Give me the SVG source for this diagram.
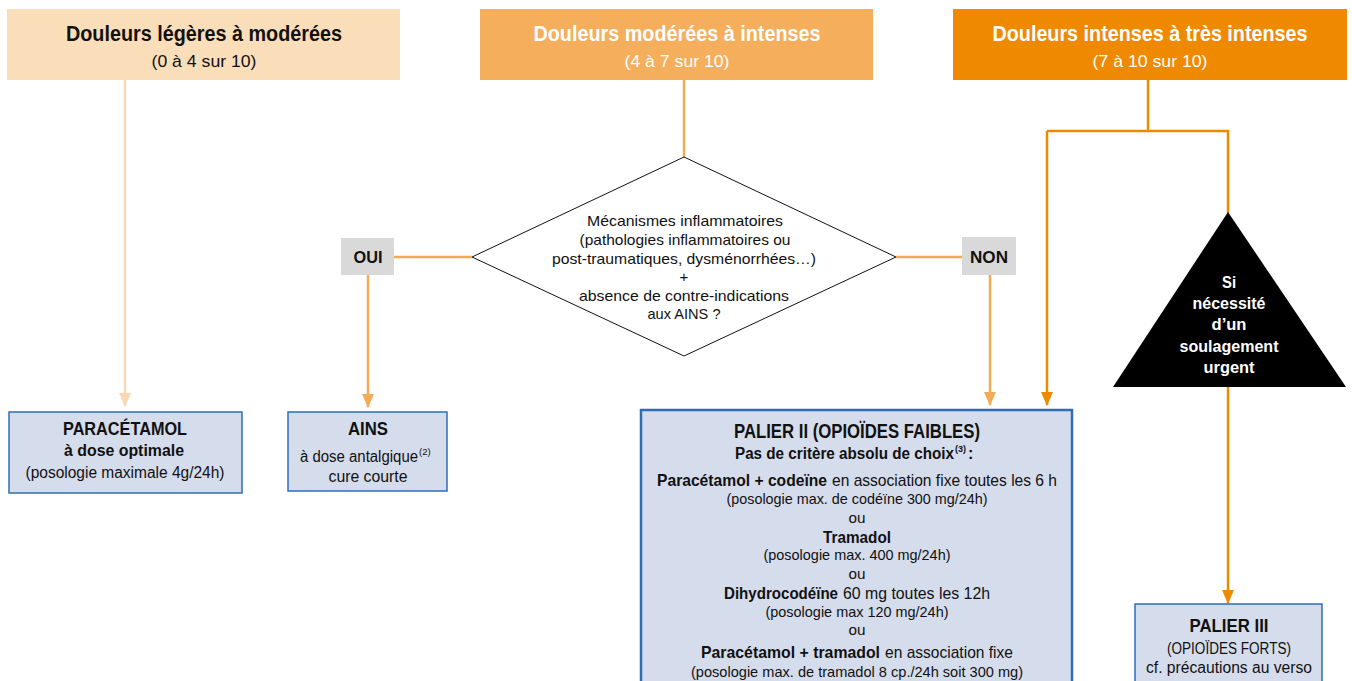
<svg xmlns="http://www.w3.org/2000/svg" width="1352" height="681" viewBox="0 0 1352 681">
<style>
text{font-family:"Liberation Sans",Arial,sans-serif;text-anchor:middle;fill:#111}
.s{text-anchor:start}
.b{font-weight:bold}
.w{fill:#fff}
.box{fill:#D5DCEC;stroke:#2F6EB5;stroke-width:1.5}
.c1{stroke:#F9D8B2;stroke-width:2.5;fill:none}
.c2{stroke:#F4AB58;stroke-width:2.5;fill:none}
.c3{stroke:#EE8A00;stroke-width:2.5;fill:none}
.lbl{fill:#D9D9D9}
</style>
<defs>
<marker id="m1" markerUnits="userSpaceOnUse" markerWidth="14" markerHeight="12" refX="13" refY="6" orient="auto" viewBox="0 0 14 12"><path d="M0,0 L14,6 L0,12 Z" fill="#F9D8B2"/></marker>
<marker id="m2" markerUnits="userSpaceOnUse" markerWidth="14" markerHeight="12" refX="13" refY="6" orient="auto" viewBox="0 0 14 12"><path d="M0,0 L14,6 L0,12 Z" fill="#F4AB58"/></marker>
<marker id="m3" markerUnits="userSpaceOnUse" markerWidth="14" markerHeight="12" refX="13" refY="6" orient="auto" viewBox="0 0 14 12"><path d="M0,0 L14,6 L0,12 Z" fill="#EE8A00"/></marker>
</defs>

<g id="connectors">
<line class="c1" x1="125" y1="80" x2="125" y2="406" marker-end="url(#m1)"/>
<line class="c2" x1="684" y1="80" x2="684" y2="157"/>
<line class="c2" x1="394" y1="257" x2="472" y2="257"/>
<line class="c2" x1="896" y1="257" x2="962" y2="257"/>
<line class="c2" x1="368" y1="275" x2="368" y2="407" marker-end="url(#m2)"/>
<line class="c2" x1="990" y1="275" x2="990" y2="405" marker-end="url(#m2)"/>
<polyline class="c3" points="1148,80 1148,131"/>
<polyline class="c3" points="1047,131 1228,131 1228,213"/>
<line class="c3" x1="1047" y1="131" x2="1047" y2="405" marker-end="url(#m3)"/>
<line class="c3" x1="1228" y1="387" x2="1228" y2="603" marker-end="url(#m3)"/>
</g>

<g id="header1">
<rect x="7" y="9" width="393" height="71" fill="#FADDB9"/>
<text x="204" y="41" class="b" font-size="22" textLength="276" lengthAdjust="spacingAndGlyphs">Douleurs légères à modérées</text>
<text x="204" y="67" font-size="17" textLength="105" lengthAdjust="spacingAndGlyphs">(0 à 4 sur 10)</text>
</g>
<g id="header2">
<rect x="480" y="9" width="393" height="71" fill="#F4AE5C"/>
<text x="677" y="41" class="b w" font-size="22" textLength="287" lengthAdjust="spacingAndGlyphs">Douleurs modérées à intenses</text>
<text x="677" y="67" class="w" font-size="17" textLength="105" lengthAdjust="spacingAndGlyphs">(4 à 7 sur 10)</text>
</g>
<g id="header3">
<rect x="953" y="9" width="394" height="71" fill="#EF8A00"/>
<text x="1150" y="41" class="b w" font-size="22" textLength="315" lengthAdjust="spacingAndGlyphs">Douleurs intenses à très intenses</text>
<text x="1150" y="67" class="w" font-size="17" textLength="115" lengthAdjust="spacingAndGlyphs">(7 à 10 sur 10)</text>
</g>

<g id="decision">
<polygon points="684,157 896,257 684,356 472,257" fill="#fff" stroke="#111" stroke-width="1"/>
<text x="685" y="226" font-size="15" textLength="196" lengthAdjust="spacingAndGlyphs">Mécanismes inflammatoires</text>
<text x="685" y="245" font-size="15" textLength="211" lengthAdjust="spacingAndGlyphs">(pathologies inflammatoires ou</text>
<text x="684" y="264" font-size="15" textLength="264" lengthAdjust="spacingAndGlyphs">post-traumatiques, dysménorrhées…)</text>
<text x="684" y="282" font-size="15">+</text>
<text x="684" y="301" font-size="15" textLength="210" lengthAdjust="spacingAndGlyphs">absence de contre-indications</text>
<text x="684" y="319" font-size="15" textLength="73" lengthAdjust="spacingAndGlyphs">aux AINS ?</text>
</g>

<g id="oui">
<rect class="lbl" x="341" y="238" width="53" height="37"/>
<text x="368" y="263" class="b" font-size="17" textLength="29" lengthAdjust="spacingAndGlyphs">OUI</text>
</g>
<g id="non">
<rect class="lbl" x="962" y="237" width="54" height="38"/>
<text x="989" y="263" class="b" font-size="17" textLength="38" lengthAdjust="spacingAndGlyphs">NON</text>
</g>

<g id="paracetamol">
<rect class="box" x="9" y="412" width="233" height="81"/>
<text x="125" y="435" class="b" font-size="18" textLength="124" lengthAdjust="spacingAndGlyphs">PARACÉTAMOL</text>
<text x="124" y="456" class="b" font-size="16" textLength="120" lengthAdjust="spacingAndGlyphs">à dose optimale</text>
<text x="125" y="478" font-size="16" textLength="199" lengthAdjust="spacingAndGlyphs">(posologie maximale 4g/24h)</text>
</g>

<g id="ains">
<rect class="box" x="288" y="412" width="159" height="79"/>
<text x="368" y="435" class="b" font-size="18" textLength="40" lengthAdjust="spacingAndGlyphs">AINS</text>
<text x="300" y="462" class="s" font-size="16"><tspan textLength="118" lengthAdjust="spacingAndGlyphs">à dose antalgique</tspan><tspan font-size="9.5" dx="1" dy="-7">(2)</tspan></text>
<text x="368" y="482" font-size="16" textLength="79" lengthAdjust="spacingAndGlyphs">cure courte</text>
</g>

<g id="palier2">
<rect x="641" y="410" width="431" height="280" fill="#D5DCEC" stroke="#2F6EB5" stroke-width="2.5"/>
<text x="857" y="438" class="b" font-size="20" textLength="246" lengthAdjust="spacingAndGlyphs">PALIER II (OPIOÏDES FAIBLES)</text>
<text x="735" y="459" class="s b" font-size="16"><tspan textLength="219" lengthAdjust="spacingAndGlyphs">Pas de critère absolu de choix</tspan><tspan font-size="9" dx="1" dy="-7">(3)</tspan><tspan dy="7" dx="2">:</tspan></text>
<text x="657" y="486" class="s b" font-size="17" textLength="170" lengthAdjust="spacingAndGlyphs">Paracétamol + codeïne</text>
<text x="832" y="486" class="s" font-size="17" textLength="225" lengthAdjust="spacingAndGlyphs">en association fixe toutes les 6 h</text>
<text x="857" y="504" font-size="14.5" textLength="261" lengthAdjust="spacingAndGlyphs">(posologie max. de codéïne 300 mg/24h)</text>
<text x="857" y="523" font-size="15" textLength="17" lengthAdjust="spacingAndGlyphs">ou</text>
<text x="857" y="543" class="b" font-size="17" textLength="68" lengthAdjust="spacingAndGlyphs">Tramadol</text>
<text x="857" y="560" font-size="14.5" textLength="187" lengthAdjust="spacingAndGlyphs">(posologie max. 400 mg/24h)</text>
<text x="857" y="579" font-size="15" textLength="17" lengthAdjust="spacingAndGlyphs">ou</text>
<text x="724" y="599" class="s b" font-size="17" textLength="114" lengthAdjust="spacingAndGlyphs">Dihydrocodéïne</text>
<text x="843" y="599" class="s" font-size="17" textLength="147" lengthAdjust="spacingAndGlyphs">60 mg toutes les 12h</text>
<text x="857" y="617" font-size="14.5" textLength="183" lengthAdjust="spacingAndGlyphs">(posologie max 120 mg/24h)</text>
<text x="857" y="635" font-size="15" textLength="17" lengthAdjust="spacingAndGlyphs">ou</text>
<text x="701" y="658" class="s b" font-size="17" textLength="179" lengthAdjust="spacingAndGlyphs">Paracétamol + tramadol</text>
<text x="885" y="658" class="s" font-size="17" textLength="128" lengthAdjust="spacingAndGlyphs">en association fixe</text>
<text x="857" y="677" font-size="14.5" textLength="332" lengthAdjust="spacingAndGlyphs">(posologie max. de tramadol 8 cp./24h soit 300 mg)</text>
</g>

<g id="urgent">
<polygon points="1228,212 1346,387 1113,387" fill="#000"/>
<text x="1229" y="288" class="b w" font-size="16" textLength="14" lengthAdjust="spacingAndGlyphs">Si</text>
<text x="1229" y="309" class="b w" font-size="16" textLength="73" lengthAdjust="spacingAndGlyphs">nécessité</text>
<text x="1229" y="330" class="b w" font-size="16" textLength="35" lengthAdjust="spacingAndGlyphs">d’un</text>
<text x="1229" y="352" class="b w" font-size="16" textLength="99" lengthAdjust="spacingAndGlyphs">soulagement</text>
<text x="1229" y="373" class="b w" font-size="16" textLength="51" lengthAdjust="spacingAndGlyphs">urgent</text>
</g>

<g id="palier3">
<rect class="box" x="1135" y="604" width="187" height="90"/>
<text x="1229" y="632" class="b" font-size="18" textLength="79" lengthAdjust="spacingAndGlyphs">PALIER III</text>
<text x="1229" y="654" font-size="16" textLength="124" lengthAdjust="spacingAndGlyphs">(OPIOÏDES FORTS)</text>
<text x="1229" y="673" font-size="16" textLength="166" lengthAdjust="spacingAndGlyphs">cf. précautions au verso</text>
</g>
</svg>
